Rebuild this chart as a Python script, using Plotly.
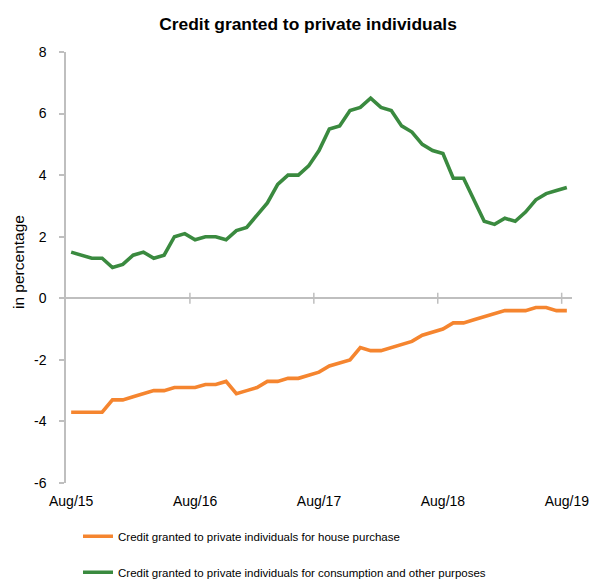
import pandas as pd
import plotly.graph_objects as go

# ---- data ----
months = [d.strftime("%b/%y") for d in pd.date_range("2015-08-01", "2019-08-01", freq="MS")]
tick_labels = ["Aug/15", "Aug/16", "Aug/17", "Aug/18", "Aug/19"]
y_tick_values = [-6, -4, -2, 0, 2, 4, 6, 8]
y_tick_text = ["-6", "-4", "-2", "0", "2", "4", "6", "8"]

house_purchase = [
    -3.7, -3.7, -3.7, -3.7, -3.3, -3.3, -3.2, -3.1, -3.0, -3.0, -2.9, -2.9,
    -2.9, -2.8, -2.8, -2.7, -3.1, -3.0, -2.9, -2.7, -2.7, -2.6, -2.6, -2.5,
    -2.4, -2.2, -2.1, -2.0, -1.6, -1.7, -1.7, -1.6, -1.5, -1.4, -1.2, -1.1,
    -1.0, -0.8, -0.8, -0.7, -0.6, -0.5, -0.4, -0.4, -0.4, -0.3, -0.3, -0.4,
    -0.4,
]
consumption = [
    1.5, 1.4, 1.3, 1.3, 1.0, 1.1, 1.4, 1.5, 1.3, 1.4, 2.0, 2.1,
    1.9, 2.0, 2.0, 1.9, 2.2, 2.3, 2.7, 3.1, 3.7, 4.0, 4.0, 4.3,
    4.8, 5.5, 5.6, 6.1, 6.2, 6.5, 6.2, 6.1, 5.6, 5.4, 5.0, 4.8,
    4.7, 3.9, 3.9, 3.2, 2.5, 2.4, 2.6, 2.5, 2.8, 3.2, 3.4, 3.5,
    3.6,
]
series_names = [
    "Credit granted to private individuals for house purchase",
    "Credit granted to private individuals for consumption and other purposes",
]
title_text = "Credit granted to private individuals"
y_title = "in percentage"

# ---- style ----
FONT = "Liberation Sans, Arial, sans-serif"
ORANGE = "#F5852F"
GREEN = "#3A8A3F"
AXIS = "#BFBFBF"
W, H = 593, 581

fig = go.Figure()
fig.add_trace(go.Scatter(x=months, y=house_purchase, mode="lines", name=series_names[0],
                         line=dict(color=ORANGE, width=3.6), legendgroup="a"))
fig.add_trace(go.Scatter(x=months, y=consumption, mode="lines", name=series_names[1],
                         line=dict(color=GREEN, width=3.6), legendgroup="b"))

# tick marks crossing the zero line at category boundaries
shapes = []
for lab in tick_labels[1:]:
    b = months.index(lab) - 0.5
    shapes.append(dict(type="line", xref="x", yref="y", x0=b, x1=b, y0=-0.18, y1=0.18,
                       line=dict(color=AXIS, width=1.5)))

fig.update_layout(
    width=W, height=H,
    margin=dict(l=66, r=21, t=52, b=98, autoexpand=False),
    paper_bgcolor="white", plot_bgcolor="white",
    title=dict(text="<b>" + title_text + "</b>", x=308 / W, xref="container", xanchor="center",
               y=1 - 24 / H, yref="container", yanchor="middle",
               font=dict(family=FONT, size=17.4, color="#000")),
    showlegend=True,
    legend=dict(orientation="v", x=12 / 506, xanchor="left", y=-0.09, yanchor="top",
                font=dict(family=FONT, size=11.5, color="#000"),
                tracegroupgap=17, bgcolor="rgba(0,0,0,0)"),
    shapes=shapes,
    annotations=[dict(text=y_title, textangle=-90, xref="paper", yref="paper",
                      x=(18 - 66) / 506, y=(483 - 262) / 431, showarrow=False,
                      xanchor="center", yanchor="middle",
                      font=dict(family=FONT, size=15.5, color="#000"))],
)
fig.update_xaxes(type="category", range=[-0.5, len(months) - 0.5],
                 tickmode="array", tickvals=tick_labels, ticktext=tick_labels,
                 showline=False, showgrid=False, zeroline=False, ticks="",
                 ticklabelstandoff=8, automargin=False,
                 tickfont=dict(family=FONT, size=14, color="#000"))
fig.update_yaxes(range=[-6, 8], tickmode="array", tickvals=y_tick_values, ticktext=y_tick_text,
                 showgrid=False, automargin=False,
                 showline=True, linecolor=AXIS, linewidth=1.5,
                 ticks="outside", ticklen=5, tickcolor=AXIS, tickwidth=1.5,
                 zeroline=True, zerolinecolor=AXIS, zerolinewidth=1.5,
                 ticklabelstandoff=10,
                 tickfont=dict(family=FONT, size=14, color="#000"))

fig.write_html("out.html", config={"displayModeBar": False},
               post_script="document.body.style.margin='0';document.body.style.overflow='hidden';")
